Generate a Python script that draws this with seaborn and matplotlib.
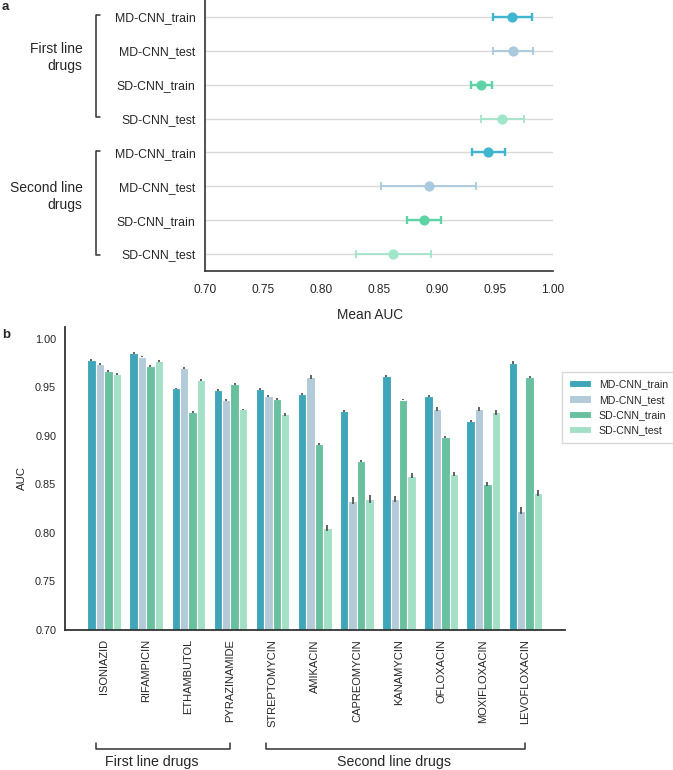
import numpy as np, pandas as pd
import matplotlib
matplotlib.use("Agg")
import matplotlib.pyplot as plt
import matplotlib.transforms as mtrans
import seaborn as sns

sns.set_style("white")
plt.rcParams["font.family"] = ["Liberation Sans", "DejaVu Sans"]

# ---- data, panel a (mean AUC over drugs with interval) ----
MODELS = ["MD-CNN_train", "MD-CNN_test", "SD-CNN_train", "SD-CNN_test"]
a_rows = MODELS + MODELS
a_group = ["First"] * 4 + ["Second"] * 4
a_mean = [0.965, 0.9655, 0.938, 0.956, 0.944, 0.893, 0.8885, 0.862]
a_lo = [0.948, 0.9487, 0.929, 0.938, 0.9306, 0.852, 0.874, 0.830]
a_hi = [0.982, 0.9828, 0.947, 0.9747, 0.9587, 0.9336, 0.9033, 0.8947]

# ---- data, panel b (AUC per drug) ----
DRUGS = ["ISONIAZID", "RIFAMPICIN", "ETHAMBUTOL", "PYRAZINAMIDE", "STREPTOMYCIN",
         "AMIKACIN", "CAPREOMYCIN", "KANAMYCIN", "OFLOXACIN", "MOXIFLOXACIN", "LEVOFLOXACIN"]
md_train = [0.9786, 0.9855, 0.949, 0.9473, 0.948, 0.9432, 0.9257, 0.9617, 0.9411, 0.9157, 0.9758]
md_test = [0.974, 0.982, 0.970, 0.9373, 0.9411, 0.961, 0.8332, 0.835, 0.9277, 0.928, 0.8229]
sd_train = [0.967, 0.9724, 0.925, 0.9535, 0.9384, 0.8916, 0.8741, 0.9376, 0.8992, 0.8504, 0.961]
sd_test = [0.9638, 0.9778, 0.958, 0.9273, 0.9222, 0.8046, 0.835, 0.859, 0.8607, 0.9242, 0.8411]
md_train_err = [0.001, 0.001, 0.001, 0.001, 0.001, 0.001, 0.001, 0.001, 0.001, 0.001, 0.0012]
md_test_err = [0.001, 0.001, 0.001, 0.001, 0.001, 0.002, 0.004, 0.003, 0.002, 0.002, 0.004]
sd_train_err = [0.001, 0.001, 0.001, 0.001, 0.001, 0.001, 0.0015, 0.001, 0.001, 0.002, 0.0012]
sd_test_err = [0.001, 0.001, 0.001, 0.001, 0.0015, 0.003, 0.004, 0.003, 0.0025, 0.003, 0.0035]

pal_a = ["#3fb6cf", "#a9c9de", "#5ed3a5", "#a0e6c9"]
pal_b = ["#3ea6b8", "#b3cad8", "#68c09e", "#a3e0c5"]
DARK = "#333333"

W, H = 673, 770
fig = plt.figure(figsize=(W / 100, H / 100), dpi=100)
px = lambda l, t, r, b: [l / W, 1 - b / H, (r - l) / W, (b - t) / H]

# ================= panel a =================
ax = fig.add_axes(px(205, 0, 553, 271))
dfa = pd.DataFrame({"row": [f"{i}" for i in range(8)], "model": a_rows, "mean": a_mean})
sns.pointplot(data=dfa, x="mean", y="row", hue="model", hue_order=MODELS, palette=pal_a,
              errorbar=None, linestyle="none", markers="o", markersize=5.3,
              dodge=False, legend=False, ax=ax, zorder=4)
ypos = ax.get_yticks()
for i, y in enumerate(ypos):
    c = pal_a[MODELS.index(a_rows[i])]
    lw = 1.7 if "train" in a_rows[i] else 1.3
    ax.errorbar(a_mean[i], y, xerr=[[a_mean[i] - a_lo[i]], [a_hi[i] - a_mean[i]]],
                fmt="none", ecolor=c, elinewidth=lw, capsize=3, capthick=lw, zorder=3)
ax.set_ylim(7.5, -0.5)
ax.set_xlim(0.70, 1.00)
ax.set_xticks(np.arange(0.70, 1.001, 0.05))
ax.set_xticklabels([f"{v:.2f}" for v in np.arange(0.70, 1.001, 0.05)], fontsize=8.6)
ax.set_yticks(ypos)
ax.set_yticklabels(a_rows, fontsize=8.8)
ax.set_ylabel("")
ax.grid(axis="y", color="#d9d9d9", lw=1.0)
ax.grid(axis="x", visible=False)
ax.set_axisbelow(True)
ax.tick_params(length=0)
ax.tick_params(axis="y", pad=7)
ax.tick_params(axis="x", pad=9)
for s in ["top", "right"]:
    ax.spines[s].set_visible(False)
for s in ["left", "bottom"]:
    ax.spines[s].set_color(DARK)
    ax.spines[s].set_linewidth(1.2)
ax.set_xlabel("Mean AUC", fontsize=9.8)
ax.xaxis.set_label_coords(0.474, -0.135)

tr = mtrans.blended_transform_factory(ax.transAxes, ax.transData)
for (y0, y1), lab, ly in [((-0.07, 2.95), "First line\ndrugs", 1.2),
                          ((3.97, 7.03), "Second line\ndrugs", 5.3)]:
    ax.plot([-0.302, -0.313, -0.313, -0.302], [y0, y0, y1, y1], color=DARK, lw=1.1,
            transform=tr, clip_on=False)
    ax.text(-0.352, ly, lab, transform=tr, ha="right", va="center", fontsize=10,
            linespacing=1.25)

# ================= panel b =================
bx = fig.add_axes(px(64.5, 327, 565, 629.5))
dfb = pd.DataFrame({
    "drug": DRUGS * 4,
    "model": sum([[m] * len(DRUGS) for m in MODELS], []),
    "auc": md_train + md_test + sd_train + sd_test,
})
sns.barplot(data=dfb, x="drug", y="auc", hue="model", order=DRUGS, hue_order=MODELS,
            palette=pal_b, saturation=1, errorbar=None, edgecolor="white", linewidth=0.8, ax=bx)
errs = [md_train_err, md_test_err, sd_train_err, sd_test_err]
for cont, e in zip(bx.containers, errs):
    xs = [p.get_x() + p.get_width() / 2 for p in cont]
    hs = [p.get_height() for p in cont]
    bx.errorbar(xs, hs, yerr=e, fmt="none", ecolor="#555555", elinewidth=1.3, capsize=0, zorder=5)
bx.set_ylim(0.70, 1.0125)
bx.set_yticks(np.arange(0.70, 1.001, 0.05))
bx.set_yticklabels([f"{v:.2f}" for v in np.arange(0.70, 1.001, 0.05)], fontsize=7.8)
bx.set_xlabel("")
bx.set_ylabel("AUC", fontsize=8.2)
bx.yaxis.set_label_coords(-0.074, 0.5)
bx.tick_params(length=0)
bx.tick_params(axis="x", rotation=90, labelsize=8, pad=7)
bx.tick_params(axis="y", pad=6)
for s in ["top", "right"]:
    bx.spines[s].set_visible(False)
for s in ["left", "bottom"]:
    bx.spines[s].set_color(DARK)
    bx.spines[s].set_linewidth(1.3)

handles, labels = bx.get_legend_handles_labels()
bx.legend(handles, labels, loc="upper left", bbox_to_anchor=(562 / W, 1 - 372 / H),
          bbox_transform=fig.transFigure, fontsize=7.6, frameon=True, edgecolor="#d0d0d0",
          handlelength=2.0, handleheight=0.7, handletextpad=0.8, borderpad=0.7,
          labelspacing=0.5, borderaxespad=0, fancybox=False)

trb = mtrans.blended_transform_factory(bx.transData, bx.transAxes)
for (x0, x1), lab, lx in [((-0.2, 3.0), "First line drugs", 1.14),
                          ((3.85, 10.0), "Second line drugs", 6.89)]:
    bx.plot([x0, x0, x1, x1], [-0.375, -0.395, -0.395, -0.375], color=DARK, lw=1.1,
            transform=trb, clip_on=False)
    bx.text(lx, -0.438, lab, transform=trb, ha="center", va="center", fontsize=10.2)

fig.text(0.003, 0.999, "a", fontsize=9.5, fontweight="bold", va="top", ha="left")
fig.text(0.003, 1 - 335 / H, "b", fontsize=9.5, fontweight="bold", va="center", ha="left")

fig.savefig("out.png", dpi=100)
